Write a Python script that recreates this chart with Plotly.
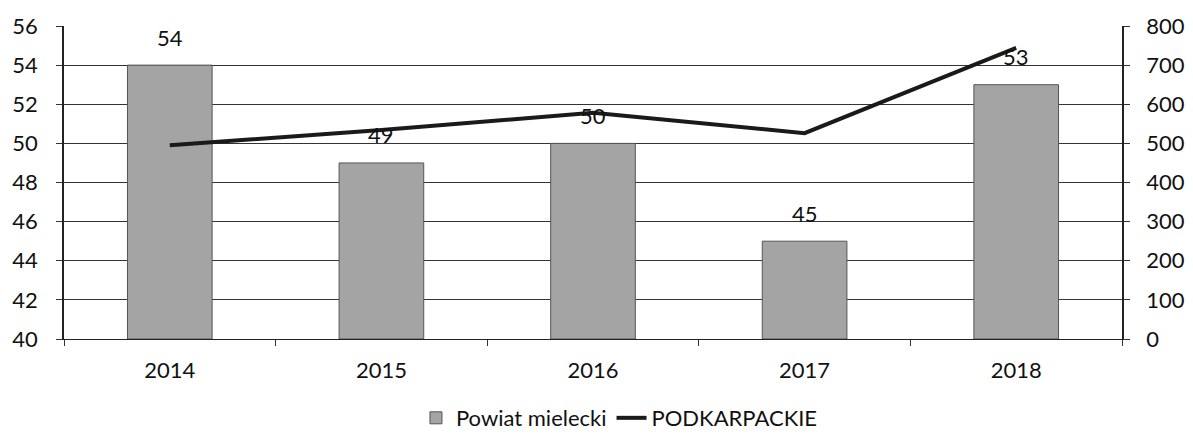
import plotly.graph_objects as go

years = ["2014", "2015", "2016", "2017", "2018"]
powiat = [54, 49, 50, 45, 53]
podkarpackie = [495, 534, 578, 526, 744]
left_ticks = [40, 42, 44, 46, 48, 50, 52, 54, 56]
right_ticks = [0, 100, 200, 300, 400, 500, 600, 700, 800]

FONT = "Lato"
FS = 22

fig = go.Figure()
fig.add_trace(go.Bar(
    x=years, y=[v - 40 for v in powiat], base=40,
    name="Powiat mielecki",
    marker=dict(color="#a4a4a4", line=dict(color="#555", width=1)),
    width=0.4,
))
fig.add_trace(go.Scatter(
    x=years, y=podkarpackie, name="PODKARPACKIE", yaxis="y2",
    mode="lines", line=dict(color="#1a1a1a", width=4),
))

for i, v in enumerate(powiat):
    fig.add_annotation(x=i, y=v, xref="x", yref="y", text=str(v), showarrow=False,
                       yshift=28, font=dict(size=FS, family=FONT, color="#111"))

fig.update_layout(
    width=1185, height=428,
    margin=dict(l=56, r=71, t=18, b=97, autoexpand=False),
    paper_bgcolor="white", plot_bgcolor="white",
    font=dict(family=FONT, size=FS, color="#111"),
    showlegend=True,
    legend=dict(orientation="h", x=0.516, xanchor="center", xref="container",
                y=0.042, yanchor="middle", yref="container",
                font=dict(size=FS, family=FONT), traceorder="normal"),
    xaxis=dict(type="category", range=[-0.5, len(years) - 0.5],
               showgrid=False, showline=True, linecolor="#222", linewidth=1,
               ticks="outside", tickson="boundaries", ticklen=6, tickcolor="#333",
               tickfont=dict(size=FS), automargin=False, ticklabelstandoff=12),
    yaxis=dict(range=[40, 56], tickvals=left_ticks, showgrid=True, gridcolor="#333",
               gridwidth=1, showline=True, linecolor="#222", linewidth=1.5,
               ticks="outside", ticklen=6, tickcolor="#333", zeroline=False,
               tickfont=dict(size=FS), ticklabelstandoff=14, automargin=False),
    yaxis2=dict(range=[0, 800], tickvals=right_ticks, overlaying="y", side="right",
                showgrid=False, showline=True, linecolor="#222", linewidth=1.5,
                ticks="outside", ticklen=6, tickcolor="#333", zeroline=False,
                tickfont=dict(size=FS), ticklabelstandoff=12, automargin=False),
)

fig.write_html("out.html")
